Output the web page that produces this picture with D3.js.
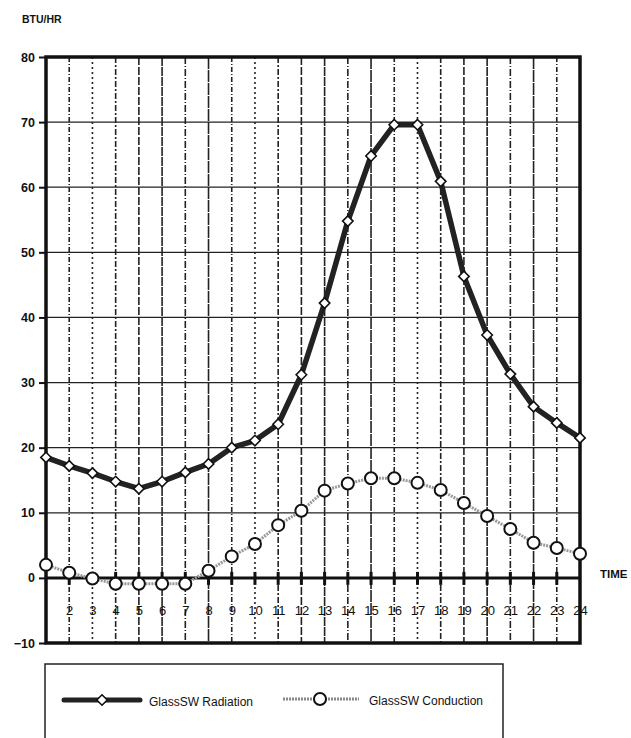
<!DOCTYPE html>
<html><head><meta charset="utf-8">
<script src="https://cdn.jsdelivr.net/npm/d3@7"></script>
<style>body{margin:0;background:#fff;} svg{display:block;} text{font-family:"Liberation Sans",Arial,sans-serif;fill:#111;}</style>
</head><body>
<svg id="c" width="631" height="738"></svg>
<script>
const hours = d3.range(1, 25);
const radiation = [18.5, 17.2, 16.1, 14.8, 13.7, 14.8, 16.2, 17.5, 20.0, 21.1, 23.6, 31.2, 42.2, 54.8, 64.8, 69.6, 69.6, 60.9, 46.3, 37.3, 31.3, 26.3, 23.8, 21.5];
const conduction = [2.0, 0.8, -0.1, -0.9, -0.9, -0.9, -0.9, 1.1, 3.3, 5.2, 8.1, 10.3, 13.4, 14.5, 15.3, 15.3, 14.6, 13.5, 11.5, 9.5, 7.5, 5.4, 4.6, 3.7];
const yTicks = [-10, 0, 10, 20, 30, 40, 50, 60, 70, 80];
const xLabels = hours.slice(1);
const seriesNames = ["GlassSW Radiation", "GlassSW Conduction"];
const yTitle = "BTU/HR", xTitle = "TIME";

const svg = d3.select("#c");
const L = 46, R = 580, T = 57, B = 643;
const x = d3.scaleLinear().domain([1, 24]).range([L, R]);
const y = d3.scaleLinear().domain([-10, 80]).range([B, T]);

// horizontal grid
svg.append("g").selectAll("line").data(yTicks.filter(v => v > 0 && v < 80)).join("line")
  .attr("x1", L).attr("x2", R).attr("y1", d => y(d)).attr("y2", d => y(d))
  .attr("stroke", "#222").attr("stroke-width", 1.3);

// vertical dashed grid
const dashes = ["5,2,1,2", "2,3", "6,2,2,2", "8,2", "9,1", "7,2,1,2", "12,1"];
svg.append("g").selectAll("line").data(hours.slice(1, 23)).join("line")
  .attr("x1", d => x(d)).attr("x2", d => x(d)).attr("y1", T).attr("y2", B)
  .attr("stroke", "#222").attr("stroke-width", 1.6)
  .attr("stroke-dasharray", (d, i) => dashes[i % dashes.length]);

// y axis ticks + labels
const yAxis = d3.axisLeft(y).tickValues(yTicks).tickSize(7).tickPadding(4).tickFormat(d3.format("d"));
const ya = svg.append("g").attr("transform", `translate(${L},0)`).call(yAxis);
ya.select(".domain").remove();
ya.selectAll(".tick line").attr("stroke", "#111").attr("stroke-width", 2);
ya.selectAll(".tick text").attr("font-size", 12.5).attr("font-weight", "bold").attr("fill", "#111");

// zero line with ticks
svg.append("line").attr("x1", L).attr("x2", R).attr("y1", y(0)).attr("y2", y(0))
  .attr("stroke", "#111").attr("stroke-width", 3);
svg.append("g").selectAll("line").data(hours.slice(1, 23)).join("line")
  .attr("x1", d => x(d)).attr("x2", d => x(d)).attr("y1", y(0) - 6).attr("y2", y(0) + 7)
  .attr("stroke", "#111").attr("stroke-width", 3);

// x labels
const xAxis = d3.axisBottom(x).tickValues(xLabels).tickSize(0).tickPadding(0).tickFormat(d3.format("d"));
const xa = svg.append("g").attr("transform", `translate(0,${y(0) + 29})`).call(xAxis);
xa.select(".domain").remove();
xa.selectAll(".tick text").attr("font-size", 13).attr("fill", "#111").attr("dy", "0.6em");

// frame
svg.append("rect").attr("x", L).attr("y", T).attr("width", R - L).attr("height", B - T)
  .attr("fill", "none").attr("stroke", "#111").attr("stroke-width", 3.5);

// conduction series
const line = d3.line().x((d, i) => x(hours[i])).y(d => y(d));
svg.append("path").datum(conduction).attr("d", line).attr("fill", "none")
  .attr("stroke", "#999").attr("stroke-width", 3).attr("stroke-dasharray", "2,1");
svg.append("g").selectAll("circle").data(conduction).join("circle")
  .attr("cx", (d, i) => x(hours[i])).attr("cy", d => y(d)).attr("r", 6)
  .attr("fill", "#fff").attr("stroke", "#111").attr("stroke-width", 2);

// radiation series
svg.append("path").datum(radiation).attr("d", line).attr("fill", "none")
  .attr("stroke", "#222").attr("stroke-width", 5.5).attr("stroke-linejoin", "round");
const diamond = d3.symbol().type(d3.symbolDiamond2).size(70);
svg.append("g").selectAll("path").data(radiation).join("path")
  .attr("transform", (d, i) => `translate(${x(hours[i])},${y(d)})`).attr("d", diamond)
  .attr("fill", "#fff").attr("stroke", "#111").attr("stroke-width", 1.6);

// titles
svg.append("text").attr("x", 22).attr("y", 23).attr("font-size", 10.5).attr("font-weight", "bold").text(yTitle);
svg.append("text").attr("x", 600).attr("y", 578).attr("font-size", 11.5).attr("font-weight", "bold").text(xTitle);

// legend
svg.append("rect").attr("x", 45).attr("y", 664).attr("width", 458).attr("height", 90)
  .attr("fill", "none").attr("stroke", "#222").attr("stroke-width", 1.5);
svg.append("line").attr("x1", 64).attr("x2", 140).attr("y1", 700).attr("y2", 700)
  .attr("stroke", "#222").attr("stroke-width", 5).attr("stroke-linecap", "round");
svg.append("path").attr("transform", "translate(102,700)").attr("d", diamond)
  .attr("fill", "#fff").attr("stroke", "#111").attr("stroke-width", 1.6);
svg.append("text").attr("x", 149).attr("y", 706).attr("font-size", 12).text(seriesNames[0]);
svg.append("line").attr("x1", 283).attr("x2", 359).attr("y1", 699).attr("y2", 699)
  .attr("stroke", "#888").attr("stroke-width", 3).attr("stroke-dasharray", "2,1");
svg.append("circle").attr("cx", 320).attr("cy", 699).attr("r", 6)
  .attr("fill", "#fff").attr("stroke", "#111").attr("stroke-width", 2);
svg.append("text").attr("x", 369).attr("y", 705).attr("font-size", 12).text(seriesNames[1]);
</script>
</body></html>
